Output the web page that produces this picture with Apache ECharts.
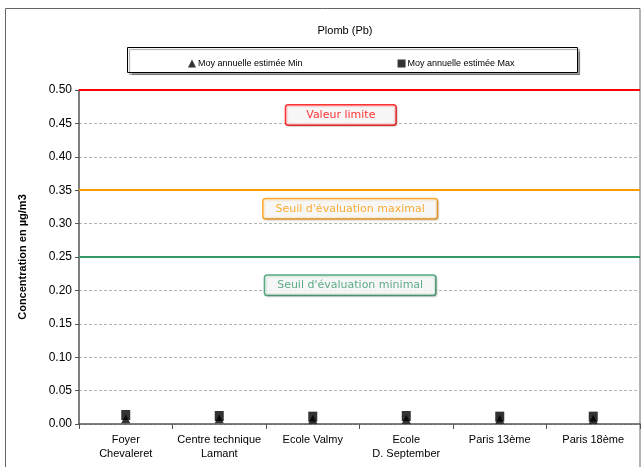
<!DOCTYPE html>
<html>
<head>
<meta charset="utf-8">
<script src="https://cdn.jsdelivr.net/npm/echarts@6/dist/echarts.min.js"></script>
<style>
  html, body { margin: 0; padding: 0; background: #fff; }
  #chart { width: 642px; height: 467px; }
</style>
</head>
<body>
<div id="chart"></div>
<script>
// Measurement sites (x axis)
const sites = ['Foyer\nChevaleret', 'Centre technique\nLamant', 'Ecole Valmy', 'Ecole\nD. September', 'Paris 13ème', 'Paris 18ème'];
// Estimated annual means, µg/m3
const minValues = [0.008, 0.008, 0.007, 0.007, 0.007, 0.007];
const maxValues = [0.0135, 0.012, 0.011, 0.012, 0.011, 0.011];
// Regulatory thresholds
const thresholdNames = ['Valeur limite', "Seuil d'évaluation maximal", "Seuil d'évaluation minimal"];
const thresholdValues = [0.5, 0.35, 0.25];
const thresholdColors = ['#ff0000', '#ff9900', '#339966'];
// Label anchor points on the annotation axes [site position, concentration]
const thresholdLabelPos = [[2.80, 0.4626], [2.90, 0.3223], [2.90, 0.2076]];
// Y axis ticks
const yMin = 0, yMax = 0.5, yStep = 0.05;

const chart = echarts.init(document.getElementById('chart'), null, { renderer: 'canvas' });

const font = 'Liberation Sans, Arial, sans-serif';
const labelPadding = [[4, 20, 4, 20], [4, 12, 4, 12], [4, 12, 4, 12]];

const option = {
  animation: false,
  backgroundColor: '#fff',
  title: {
    text: 'Plomb (Pb)',
    left: 340, top: 20, textAlign: 'center',
    textStyle: { fontFamily: font, fontSize: 11, fontWeight: 'normal', color: '#000' }
  },
  graphic: [
    { type: 'rect', shape: { x: 5.5, y: 8.5, width: 634.5, height: 470 },
      style: { fill: null, stroke: '#666', lineWidth: 1 }, silent: true, z: -1 },
    { type: 'rect', shape: { x: 127.5, y: 47.5, width: 450, height: 25 },
      style: { fill: '#fff', stroke: '#000', lineWidth: 1, shadowColor: 'rgba(0,0,0,0.35)', shadowOffsetX: 2, shadowOffsetY: 2, shadowBlur: 1 },
      silent: true, z: 0 }
  ],
  legend: {
    top: 54, left: 183,
    itemGap: 95,
    itemWidth: 8, itemHeight: 8,
    textStyle: { fontFamily: font, fontSize: 9, color: '#000', padding: [0, 0, 0, -3] },
    data: [
      { name: 'Moy annuelle estimée Min', icon: 'triangle' },
      { name: 'Moy annuelle estimée Max', icon: 'rect' }
    ],
    z: 5
  },
  grid: { left: 79, right: 2, top: 90, bottom: 43 },
  xAxis: [
    {
      type: 'category', data: sites,
      axisLine: { lineStyle: { color: '#555', width: 1.5 } },
      axisTick: { show: true, length: 5, lineStyle: { color: '#555' } },
      axisLabel: { fontFamily: font, fontSize: 11, color: '#000', margin: 9, lineHeight: 14, interval: 0 },
      splitLine: { show: false }
    },
    { type: 'value', min: 0, max: 6, show: false }
  ],
  yAxis: [
    {
      type: 'value', min: yMin, max: yMax, interval: yStep,
      name: 'Concentration en µg/m3', nameLocation: 'middle', nameGap: 51,
      nameTextStyle: { fontFamily: font, fontSize: 11, fontWeight: 'bold', color: '#000' },
      axisLine: { show: true, lineStyle: { color: '#555', width: 1.5 } },
      axisTick: { show: true, length: 4, inside: false, lineStyle: { color: '#555' } },
      axisLabel: { fontFamily: font, fontSize: 12, color: '#000', margin: 7, formatter: v => v.toFixed(2) },
      splitLine: { show: true, lineStyle: { color: '#b4b4b4', type: [3, 2], width: 1.2 } }
    },
    { type: 'value', min: yMin, max: yMax, show: false }
  ],
  series: [
    {
      name: 'Moy annuelle estimée Min', type: 'scatter',
      symbol: 'triangle', symbolSize: 9,
      itemStyle: { color: '#000' },
      data: minValues, z: 3,
      markLine: {
        silent: true, symbol: 'none',
        label: { show: false },
        data: thresholdValues.map((v, i) => ({
          yAxis: v, lineStyle: { color: thresholdColors[i], width: 2, type: 'solid' }
        }))
      }
    },
    {
      name: 'Moy annuelle estimée Max', type: 'scatter',
      symbol: 'rect', symbolSize: [9, 10],
      itemStyle: { color: '#000' },
      data: maxValues, z: 4
    },
    {
      name: 'labels', type: 'scatter',
      xAxisIndex: 1, yAxisIndex: 1,
      symbolSize: 0, silent: true, z: 6,
      data: thresholdLabelPos.map((p, i) => ({
        value: p,
        label: {
          show: true, position: 'inside',
          formatter: thresholdNames[i],
          fontFamily: 'DejaVu Sans, sans-serif', fontSize: 11, color: thresholdColors[i],
          backgroundColor: '#fff', borderColor: thresholdColors[i], borderWidth: 1.5, borderRadius: 2,
          padding: labelPadding[i],
          shadowColor: 'rgba(0,0,0,0.2)', shadowOffsetX: 1, shadowOffsetY: 1, shadowBlur: 1
        }
      }))
    }
  ]
};

chart.setOption(option);
</script>
</body>
</html>
